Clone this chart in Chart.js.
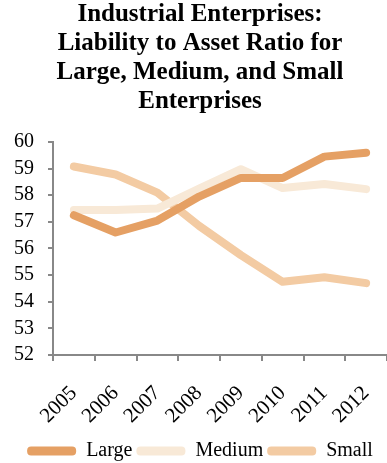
<!DOCTYPE html>
<html>
<head>
<meta charset="utf-8">
<script src="https://cdn.jsdelivr.net/npm/chart.js@4"></script>
<style>
html,body{margin:0;padding:0;background:#fff;}
#wrap{width:387px;height:463px;}
</style>
</head>
<body>
<div id="wrap"><canvas id="c" width="387" height="463"></canvas></div>
<script>
const categories = ["2005","2006","2007","2008","2009","2010","2011","2012"];
const largeValues = [57.25, 56.6, 57.05, 57.95, 58.65, 58.65, 59.45, 59.6];
const mediumValues = [57.45, 57.45, 57.5, 58.25, 58.98, 58.27, 58.42, 58.23];
const smallValues = [59.08, 58.78, 58.1, 56.85, 55.75, 54.75, 54.92, 54.7];
const yTicks = [52, 53, 54, 55, 56, 57, 58, 59, 60];
const titleLines = ["Industrial Enterprises:", "Liability to Asset Ratio for", "Large, Medium, and Small", "Enterprises"];

const serif = "'Liberation Serif', 'Times New Roman', serif";
const mk = (label, data, color) => ({
  label, data, borderColor: color, backgroundColor: color,
  borderWidth: 8, pointRadius: 0, tension: 0,
  borderCapStyle: 'round', borderJoinStyle: 'round', fill: false
});

new Chart(document.getElementById('c'), {
  type: 'line',
  data: {
    labels: categories,
    datasets: [
      mk('Large', largeValues, '#E5A064'),
      mk('Medium', mediumValues, '#F8E9D7'),
      mk('Small', smallValues, '#F3CBA3')
    ]
  },
  options: {
    responsive: false,
    animation: false,
    layout: { padding: { left: 0, right: -13, top: 0, bottom: -8 } },
    plugins: {
      title: {
        display: true,
        text: titleLines,
        color: '#000',
        font: { family: serif, size: 25, weight: 'bold', lineHeight: 1.16 },
        padding: { top: 0, bottom: 26 }
      },
      legend: {
        position: 'bottom',
        labels: {
          color: '#000',
          font: { family: serif, size: 20 },
          boxWidth: 49,
          boxHeight: 9,
          padding: 4,
          useBorderRadius: true,
          borderRadius: 4,
          generateLabels: (chart) => Chart.defaults.plugins.legend.labels.generateLabels(chart).map(l => ({...l, lineWidth: 0}))
        }
      },
      tooltip: { enabled: false }
    },
    scales: {
      x: {
        offset: true,
        afterFit: (axis) => { axis.height -= 11.5; axis.paddingRight = 0; },
        grid: { offset: true, drawOnChartArea: false, drawTicks: true, tickLength: 6, color: '#888', lineWidth: 2 },
        border: { color: '#888', width: 2 },
        ticks: { color: '#000', font: { family: serif, size: 21 }, maxRotation: 45, minRotation: 45, padding: 20, autoSkip: false }
      },
      y: {
        min: 52, max: 60,
        afterBuildTicks: (axis) => { axis.ticks = yTicks.map(v => ({ value: v })); },
        grid: { drawOnChartArea: false, drawTicks: true, tickLength: 5, color: '#888', lineWidth: 2 },
        border: { color: '#888', width: 2 },
        ticks: { color: '#000', font: { family: serif, size: 20 }, padding: 14, autoSkip: false }
      }
    }
  }
});
</script>
</body>
</html>
